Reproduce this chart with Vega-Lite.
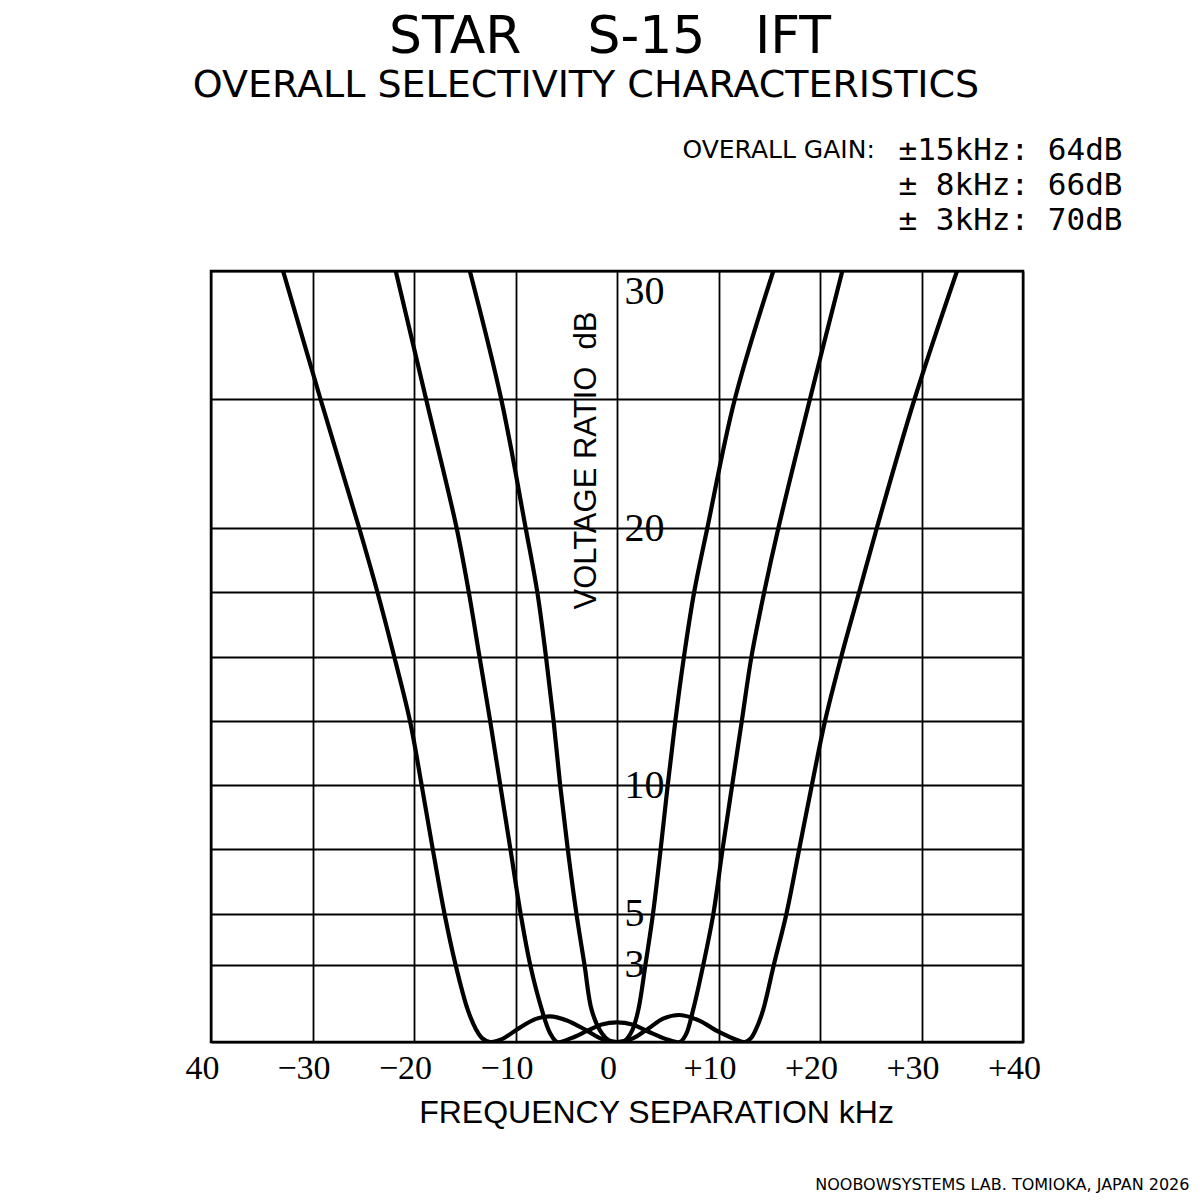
{
  "$schema": "https://vega.github.io/schema/vega-lite/v6.json",
  "autosize": "none",
  "width": 812,
  "height": 771,
  "padding": {"left": 211, "top": 271, "right": 177, "bottom": 158},
  "background": "white",
  "title": {
    "text": "STAR\u00a0\u00a0\u00a0\u00a0S-15\u00a0\u00a0\u00a0IFT",
    "frame": "group",
    "anchor": "middle",
    "dx": -7,
    "offset": 3,
    "font": "DejaVu Sans",
    "fontSize": 52,
    "fontWeight": "normal",
    "color": "black"
  },
  "datasets": {
    "curves": [
      {"series": "±15kHz", "f": -32.9, "db": 30},
      {"series": "±15kHz", "f": -29.2, "db": 25},
      {"series": "±15kHz", "f": -25.4, "db": 20},
      {"series": "±15kHz", "f": -23.6, "db": 17.5},
      {"series": "±15kHz", "f": -21.95, "db": 15},
      {"series": "±15kHz", "f": -20.4, "db": 12.5},
      {"series": "±15kHz", "f": -19.25, "db": 10},
      {"series": "±15kHz", "f": -18.15, "db": 7.5},
      {"series": "±15kHz", "f": -17.0, "db": 5},
      {"series": "±15kHz", "f": -15.9, "db": 3},
      {"series": "±15kHz", "f": -14.7, "db": 1.25},
      {"series": "±15kHz", "f": -13.9, "db": 0.5},
      {"series": "±15kHz", "f": -13.3, "db": 0.15},
      {"series": "±15kHz", "f": -12.5, "db": 0},
      {"series": "±15kHz", "f": -11.4, "db": 0.1},
      {"series": "±15kHz", "f": -9.6, "db": 0.55},
      {"series": "±15kHz", "f": -8.0, "db": 0.9},
      {"series": "±15kHz", "f": -6.6, "db": 1.0},
      {"series": "±15kHz", "f": -5.0, "db": 0.85},
      {"series": "±15kHz", "f": -3.0, "db": 0.45},
      {"series": "±15kHz", "f": -1.5, "db": 0.12},
      {"series": "±15kHz", "f": 0, "db": 0},
      {"series": "±15kHz", "f": 1.5, "db": 0.13},
      {"series": "±15kHz", "f": 3.0, "db": 0.5},
      {"series": "±15kHz", "f": 4.6, "db": 0.92},
      {"series": "±15kHz", "f": 6.2, "db": 1.05},
      {"series": "±15kHz", "f": 8.0, "db": 0.85},
      {"series": "±15kHz", "f": 10.0, "db": 0.4},
      {"series": "±15kHz", "f": 11.8, "db": 0.08},
      {"series": "±15kHz", "f": 12.6, "db": 0},
      {"series": "±15kHz", "f": 13.2, "db": 0.15},
      {"series": "±15kHz", "f": 13.7, "db": 0.5},
      {"series": "±15kHz", "f": 14.4, "db": 1.25},
      {"series": "±15kHz", "f": 15.45, "db": 3},
      {"series": "±15kHz", "f": 16.7, "db": 5},
      {"series": "±15kHz", "f": 17.95, "db": 7.5},
      {"series": "±15kHz", "f": 19.2, "db": 10},
      {"series": "±15kHz", "f": 20.5, "db": 12.5},
      {"series": "±15kHz", "f": 22.1, "db": 15},
      {"series": "±15kHz", "f": 23.85, "db": 17.5},
      {"series": "±15kHz", "f": 25.6, "db": 20},
      {"series": "±15kHz", "f": 29.3, "db": 25},
      {"series": "±15kHz", "f": 33.5, "db": 30},

      {"series": "±8kHz", "f": -21.8, "db": 30},
      {"series": "±8kHz", "f": -18.8, "db": 25},
      {"series": "±8kHz", "f": -15.8, "db": 20},
      {"series": "±8kHz", "f": -14.6, "db": 17.5},
      {"series": "±8kHz", "f": -13.55, "db": 15},
      {"series": "±8kHz", "f": -12.5, "db": 12.5},
      {"series": "±8kHz", "f": -11.5, "db": 10},
      {"series": "±8kHz", "f": -10.5, "db": 7.5},
      {"series": "±8kHz", "f": -9.5, "db": 5},
      {"series": "±8kHz", "f": -8.55, "db": 3},
      {"series": "±8kHz", "f": -7.4, "db": 1.25},
      {"series": "±8kHz", "f": -6.6, "db": 0.35},
      {"series": "±8kHz", "f": -5.9, "db": 0},
      {"series": "±8kHz", "f": -4.5, "db": 0.15},
      {"series": "±8kHz", "f": -3.0, "db": 0.42},
      {"series": "±8kHz", "f": -1.5, "db": 0.68},
      {"series": "±8kHz", "f": 0, "db": 0.76},
      {"series": "±8kHz", "f": 1.5, "db": 0.68},
      {"series": "±8kHz", "f": 3.0, "db": 0.42},
      {"series": "±8kHz", "f": 4.8, "db": 0.12},
      {"series": "±8kHz", "f": 6.2, "db": 0},
      {"series": "±8kHz", "f": 6.8, "db": 0.3},
      {"series": "±8kHz", "f": 7.5, "db": 1.25},
      {"series": "±8kHz", "f": 8.5, "db": 3},
      {"series": "±8kHz", "f": 9.5, "db": 5},
      {"series": "±8kHz", "f": 10.4, "db": 7.5},
      {"series": "±8kHz", "f": 11.35, "db": 10},
      {"series": "±8kHz", "f": 12.3, "db": 12.5},
      {"series": "±8kHz", "f": 13.25, "db": 15},
      {"series": "±8kHz", "f": 14.5, "db": 17.5},
      {"series": "±8kHz", "f": 15.9, "db": 20},
      {"series": "±8kHz", "f": 19.0, "db": 25},
      {"series": "±8kHz", "f": 22.2, "db": 30},

      {"series": "±3kHz", "f": -14.5, "db": 30},
      {"series": "±3kHz", "f": -11.4, "db": 25},
      {"series": "±3kHz", "f": -9.0, "db": 20},
      {"series": "±3kHz", "f": -7.85, "db": 17.5},
      {"series": "±3kHz", "f": -7.0, "db": 15},
      {"series": "±3kHz", "f": -6.25, "db": 12.5},
      {"series": "±3kHz", "f": -5.6, "db": 10},
      {"series": "±3kHz", "f": -4.85, "db": 7.5},
      {"series": "±3kHz", "f": -4.0, "db": 5},
      {"series": "±3kHz", "f": -3.2, "db": 3},
      {"series": "±3kHz", "f": -2.5, "db": 1.25},
      {"series": "±3kHz", "f": -1.6, "db": 0.4},
      {"series": "±3kHz", "f": -0.8, "db": 0.06},
      {"series": "±3kHz", "f": 0, "db": 0},
      {"series": "±3kHz", "f": 0.8, "db": 0.06},
      {"series": "±3kHz", "f": 1.5, "db": 0.45},
      {"series": "±3kHz", "f": 2.1, "db": 1.25},
      {"series": "±3kHz", "f": 2.8, "db": 3},
      {"series": "±3kHz", "f": 3.55, "db": 5},
      {"series": "±3kHz", "f": 4.3, "db": 7.5},
      {"series": "±3kHz", "f": 5.0, "db": 10},
      {"series": "±3kHz", "f": 5.75, "db": 12.5},
      {"series": "±3kHz", "f": 6.6, "db": 15},
      {"series": "±3kHz", "f": 7.6, "db": 17.5},
      {"series": "±3kHz", "f": 8.9, "db": 20},
      {"series": "±3kHz", "f": 11.6, "db": 25},
      {"series": "±3kHz", "f": 15.4, "db": 30}
    ],
    "heading": [
      {"label": "OVERALL SELECTIVITY CHARACTERISTICS"}
    ],
    "gain": [
      {"label": "OVERALL GAIN:", "lines": ["±15kHz: 64dB", "± 8kHz: 66dB", "± 3kHz: 70dB"]}
    ],
    "credit": [
      {"label": "NOOBOWSYSTEMS LAB. TOMIOKA, JAPAN 2026"}
    ]
  },
  "layer": [
    {
      "data": {"name": "curves"},
      "mark": {"type": "line", "interpolate": "catmull-rom", "clip": true, "stroke": "black", "strokeWidth": 4.2, "strokeJoin": "round", "strokeCap": "round"},
      "encoding": {
        "x": {
          "field": "f",
          "type": "quantitative",
          "scale": {"domain": [-40, 40], "nice": false, "zero": false},
          "axis": {
            "orient": "bottom",
            "values": [-40, -30, -20, -10, 0, 10, 20, 30, 40],
            "labelExpr": "datum.value == -40 ? '40' : datum.value < 0 ? '−' + format(-datum.value, 'd') : datum.value > 0 ? '+' + format(datum.value, 'd') : '0'",
            "grid": true,
            "gridColor": "black",
            "gridWidth": 1.8,
            "gridOpacity": 1,
            "domain": false,
            "ticks": false,
            "labelFont": "Liberation Serif",
            "labelFontSize": 34,
            "labelColor": "black",
            "labelBaseline": "alphabetic",
            "labelPadding": 36,
            "labelOffset": -9,
            "labelFlush": false,
            "labelOverlap": false,
            "title": "FREQUENCY SEPARATION kHz",
            "titleFont": "Liberation Sans",
            "titleFontSize": 32,
            "titleFontWeight": "normal",
            "titleColor": "black",
            "titleBaseline": "alphabetic",
            "titleX": 445,
            "titleY": 80
          }
        },
        "y": {
          "field": "db",
          "type": "quantitative",
          "scale": {"domain": [0, 30], "nice": false, "zero": false},
          "axis": {
            "orient": "right",
            "offset": -406,
            "values": [0, 3, 5, 7.5, 10, 12.5, 15, 17.5, 20, 25, 30],
            "labelExpr": "indexof([3, 5, 10, 20, 30], datum.value) >= 0 ? datum.label : ''",
            "grid": true,
            "gridColor": "black",
            "gridWidth": 1.8,
            "gridOpacity": 1,
            "domain": false,
            "ticks": false,
            "labelFont": "Liberation Serif",
            "labelFontSize": 40,
            "labelColor": "black",
            "labelPadding": 7,
            "labelFlush": true,
            "labelOverlap": false,
            "title": "VOLTAGE RATIO\u00a0\u00a0dB",
            "titleFont": "Liberation Sans",
            "titleFontSize": 31,
            "titleFontWeight": "normal",
            "titleColor": "black",
            "titleAngle": 270,
            "titleBaseline": "alphabetic",
            "titleAlign": "center",
            "titleX": -22,
            "titleY": 189
          }
        },
        "detail": {"field": "series", "type": "nominal"}
      }
    },
    {
      "data": {"name": "heading"},
      "mark": {"type": "text", "font": "DejaVu Sans", "fontSize": 38, "align": "center", "baseline": "alphabetic", "color": "black"},
      "encoding": {
        "x": {"datum": -3.05},
        "y": {"datum": 36.77},
        "text": {"field": "label", "type": "nominal"}
      }
    },
    {
      "data": {"name": "gain"},
      "mark": {"type": "text", "font": "DejaVu Sans", "fontSize": 25, "align": "right", "baseline": "alphabetic", "color": "black"},
      "encoding": {
        "x": {"datum": 25.4},
        "y": {"datum": 34.4},
        "text": {"field": "label", "type": "nominal"}
      }
    },
    {
      "data": {"name": "gain"},
      "mark": {"type": "text", "font": "DejaVu Sans Mono", "fontSize": 31, "align": "right", "baseline": "alphabetic", "lineHeight": 35, "color": "black"},
      "encoding": {
        "x": {"datum": 49.8},
        "y": {"datum": 34.32},
        "text": {"field": "lines", "type": "nominal"}
      }
    },
    {
      "data": {"name": "credit"},
      "mark": {"type": "text", "font": "DejaVu Sans", "fontSize": 16, "align": "right", "baseline": "alphabetic", "color": "black"},
      "encoding": {
        "x": {"datum": 56.4},
        "y": {"datum": -5.76},
        "text": {"field": "label", "type": "nominal"}
      }
    }
  ],
  "config": {
    "view": {"stroke": "black", "strokeWidth": 2.5},
    "axis": {"labelFontWeight": "normal"}
  }
}
